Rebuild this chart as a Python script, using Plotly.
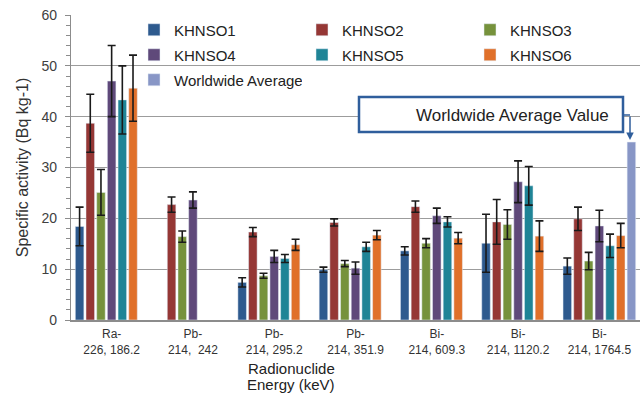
import plotly.graph_objects as go

categories = ["Ra-<br>226, 186.2", "Pb-<br>214,  242", "Pb-<br>214, 295.2", "Pb-<br>214, 351.9",
              "Bi-<br>214, 609.3", "Bi-<br>214, 1120.2", "Bi-<br>214, 1764.5"]

khnso1 = [18.4, None, 7.4, 9.9, 13.6, 15.1, 10.6]
khnso2 = [38.7, 22.7, 17.3, 19.2, 22.3, 19.3, 19.9]
khnso3 = [25.1, 16.4, 8.7, 11.1, 15.1, 18.8, 11.6]
khnso4 = [47.0, 23.6, 12.5, 10.2, 20.5, 27.2, 18.5]
khnso5 = [43.3, None, 12.1, 14.4, 19.3, 26.4, 14.6]
khnso6 = [45.6, None, 14.8, 16.7, 16.1, 16.5, 16.6]
worldwide = [None, None, None, None, None, None, 35.0]

err1 = [3.8, 0, 0.9, 0.5, 0.8, 5.7, 1.6]
err2 = [5.7, 1.5, 0.9, 0.7, 1.1, 4.4, 2.3]
err3 = [4.5, 1.1, 0.5, 0.6, 0.9, 2.9, 1.7]
err4 = [7.0, 1.6, 1.2, 1.2, 1.5, 4.1, 3.1]
err5 = [6.7, 0, 0.8, 0.9, 1.0, 3.8, 2.3]
err6 = [6.5, 0, 1.1, 0.9, 1.1, 3.0, 2.4]

series = [
    ("KHNSO1", khnso1, err1, "#2E5A8E", "legend"),
    ("KHNSO2", khnso2, err2, "#953735", "legend"),
    ("KHNSO3", khnso3, err3, "#76923C", "legend"),
    ("KHNSO4", khnso4, err4, "#5F497A", "legend2"),
    ("KHNSO5", khnso5, err5, "#1F8496", "legend2"),
    ("KHNSO6", khnso6, err6, "#E0702A", "legend2"),
]

fig = go.Figure()
for name, vals, errs, color, leg in series:
    fig.add_bar(x=categories, y=vals, name=name, marker_color=color, legend=leg,
                error_y=dict(type="data", array=errs, visible=True, color="#1a1a1a",
                             thickness=1.6, width=4))
fig.add_bar(x=categories, y=worldwide, name="Worldwide Average", marker_color="#8896C6",
            legend="legend3")

W, H = 643, 400
L, R, T, B = 71, 3, 15, 80
pw, ph = W - L - R, H - T - B
def px(x):
    return (x - L) / pw
def py(y):
    return (H - B - y) / ph

legfont = dict(family="Arial, Liberation Sans, sans-serif", size=15, color="#222222")
def leg(yp):
    return dict(orientation="h", x=px(134), xanchor="left", y=py(yp), yanchor="middle",
                bgcolor="rgba(0,0,0,0)", font=legfont, entrywidth=123, entrywidthmode="pixels",
                itemclick=False, itemdoubleclick=False)

fig.update_layout(
    width=W, height=H,
    margin=dict(l=L, r=R, t=T, b=B, autoexpand=False),
    paper_bgcolor="white", plot_bgcolor="white",
    barmode="group", bargap=0.08, bargroupgap=0.2,
    font=dict(family="Arial, Liberation Sans, sans-serif", color="#333333"),
    showlegend=True,
    legend=leg(30), legend2=leg(55), legend3=leg(80),
    xaxis=dict(showline=True, linecolor="#8c8c8c", linewidth=1.5, ticks="",
               tickfont=dict(size=12, color="#333333"), showgrid=False,
               ticklabelstandoff=2),
    yaxis=dict(range=[0, 60], dtick=10, showgrid=True, gridcolor="#9c9c9c", gridwidth=1.3,
               showline=True, linecolor="#8c8c8c", linewidth=1.2, ticks="outside", ticklen=5,
               tickcolor="#8c8c8c", ticklabelstandoff=5,
               tickfont=dict(size=14, color="#404040"),
               minor=dict(dtick=2, ticks="outside", ticklen=4, tickcolor="#8c8c8c", showgrid=False),
               title=dict(text="Specific activity (Bq kg-1)", font=dict(size=16, color="#333333"),
                          standoff=8),
               zeroline=False),
    shapes=[
        dict(type="rect", xref="paper", yref="paper", x0=px(359), x1=px(623), y0=py(132), y1=py(97),
             line=dict(color="#2F5E9C", width=2.5), fillcolor="white", layer="above"),
        dict(type="line", xref="paper", yref="paper", x0=px(623), x1=px(630), y0=py(115), y1=py(115),
             line=dict(color="#2F5E9C", width=1.5)),
    ],
    annotations=[
        dict(text="Worldwide Average Value", xref="paper", yref="paper", x=px(611), y=py(115),
             xanchor="right", yanchor="middle", showarrow=False,
             font=dict(size=17, color="#222222")),
        dict(text="", xref="paper", yref="y", x=px(630), y=worldwide[-1] + 0.4,
             ax=0, ay=-25, showarrow=True, arrowhead=2, arrowsize=1, arrowwidth=1.5,
             arrowcolor="#2F5E9C", standoff=0),
        dict(text="Radionuclide", xref="paper", yref="paper", x=px(291), y=py(368),
             xanchor="center", yanchor="middle", showarrow=False, font=dict(size=15, color="#222222")),
        dict(text="Energy (keV)", xref="paper", yref="paper", x=px(291), y=py(384),
             xanchor="center", yanchor="middle", showarrow=False, font=dict(size=15, color="#222222")),
    ],
)

fig.write_html("out.html")
